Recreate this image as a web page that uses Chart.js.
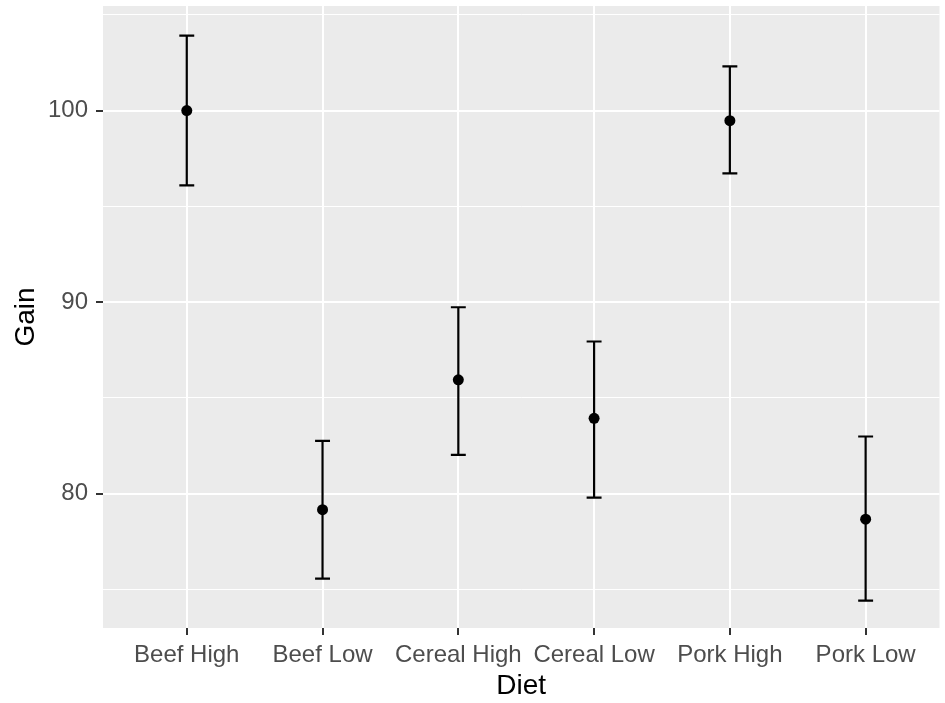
<!DOCTYPE html>
<html>
<head>
<meta charset="utf-8">
<script src="https://cdn.jsdelivr.net/npm/chart.js@4/dist/chart.umd.min.js"></script>
<style>
  body { margin: 0; background: #fff; }
  #wrap { width: 945px; height: 703px; }
</style>
</head>
<body>
<div id="wrap"><canvas id="chart"></canvas></div>
<script>
// data
const diets = ['Beef High', 'Beef Low', 'Cereal High', 'Cereal Low', 'Pork High', 'Pork Low'];
const gainMean = [100.0, 79.16, 85.94, 83.93, 99.47, 78.66];
const gainLower = [96.09, 75.56, 82.02, 79.79, 96.72, 74.41];
const gainUpper = [103.91, 82.75, 89.73, 87.94, 102.31, 82.98];
const yMajor = [80, 90, 100];
const yMinor = [75, 85, 95, 105];

const capHalf = 0.055; // half width of error bar caps, in category units
const tickFont = { family: "'Liberation Sans', Arial, sans-serif", size: 24 };
const titleFont = { family: "'Liberation Sans', Arial, sans-serif", size: 28 };

// grey panel behind the grid, like ggplot's theme_grey
const panelBg = {
  id: 'panelBg',
  beforeDraw(chart) {
    const a = chart.chartArea;
    const ctx = chart.ctx;
    ctx.save();
    ctx.fillStyle = '#EBEBEB';
    ctx.fillRect(a.left, a.top, a.right - a.left, a.bottom - a.top);
    ctx.restore();
  }
};

// error bars drawn under the points
const errorBars = {
  id: 'errorBars',
  beforeDatasetsDraw(chart) {
    const x = chart.scales.x, y = chart.scales.y;
    const ctx = chart.ctx;
    ctx.save();
    ctx.strokeStyle = '#000';
    ctx.lineWidth = 2.2;
    diets.forEach((d, i) => {
      const px = x.getPixelForValue(i);
      const pl = x.getPixelForValue(i - capHalf);
      const pr = x.getPixelForValue(i + capHalf);
      const yLo = y.getPixelForValue(gainLower[i]);
      const yHi = y.getPixelForValue(gainUpper[i]);
      ctx.beginPath();
      ctx.moveTo(px, yHi); ctx.lineTo(px, yLo);
      ctx.moveTo(pl, yHi); ctx.lineTo(pr, yHi);
      ctx.moveTo(pl, yLo); ctx.lineTo(pr, yLo);
      ctx.stroke();
    });
    ctx.restore();
  }
};

// keep the panel edges where the picture has them
function noPadding(scale) {
  scale.paddingTop = 0;
  scale.paddingBottom = 0;
  scale.paddingLeft = 0;
  scale.paddingRight = 0;
}

new Chart(document.getElementById('chart'), {
  type: 'scatter',
  data: {
    datasets: [{
      data: gainMean.map((v, i) => ({ x: i, y: v })),
      backgroundColor: '#000',
      borderWidth: 0,
      pointRadius: 5.5,
      pointHoverRadius: 5.5
    }]
  },
  options: {
    responsive: true,
    maintainAspectRatio: false,
    animation: false,
    devicePixelRatio: 1,
    layout: { padding: { top: 6, left: 0, right: 0, bottom: 0 } },
    plugins: { legend: { display: false }, tooltip: { enabled: false } },
    scales: {
      x: {
        type: 'linear',
        min: -0.617,
        max: 5.544,
        afterBuildTicks: (scale) => {
          scale.ticks = diets.map((d, i) => ({ value: i }));
        },
        afterFit: (scale) => { scale.height = 75; noPadding(scale); },
        border: { display: false },
        grid: {
          color: '#fff',
          lineWidth: 2,
          tickColor: '#333',
          tickWidth: 2,
          tickLength: 7
        },
        ticks: {
          autoSkip: false,
          maxRotation: 0,
          minRotation: 0,
          padding: 6,
          color: '#4D4D4D',
          font: tickFont,
          callback: (v) => diets[v]
        },
        title: {
          display: true,
          text: 'Diet',
          color: '#000',
          font: titleFont,
          padding: { top: 0, bottom: 0 }
        }
      },
      y: {
        min: 72.98,
        max: 105.46,
        afterBuildTicks: (scale) => {
          scale.ticks = yMajor.concat(yMinor).sort((a, b) => a - b).map(v => ({ value: v }));
        },
        afterFit: (scale) => { scale.width = 103; noPadding(scale); },
        border: { display: false },
        grid: {
          color: '#fff',
          lineWidth: (c) => yMajor.includes(c.tick.value) ? 2 : 1,
          tickColor: (c) => yMajor.includes(c.tick.value) ? '#333' : 'rgba(0,0,0,0)',
          tickWidth: 2,
          tickLength: 7
        },
        ticks: {
          autoSkip: false,
          padding: 8,
          color: '#4D4D4D',
          font: tickFont,
          callback: (v) => yMajor.includes(v) ? String(v) : ''
        },
        title: {
          display: true,
          text: 'Gain',
          color: '#000',
          font: titleFont,
          padding: { top: 9, bottom: 0 }
        }
      }
    }
  },
  plugins: [panelBg, errorBars]
});
</script>
</body>
</html>
